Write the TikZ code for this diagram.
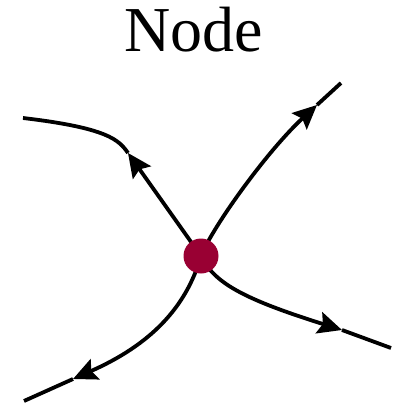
\documentclass[tikz,border=0pt]{standalone}
\usepackage{fontspec}
\setmainfont{Liberation Serif}
\usetikzlibrary{arrows.meta}
\definecolor{dotred}{HTML}{990033}
\tikzset{
  flow/.style={line width=3.8pt, black},
  tipflow/.style={flow, -{Stealth[length=24pt 0 0,width=22pt 0 0,inset=4pt 0]}},
  dotnode/.style={circle, fill=dotred, minimum size=35pt, inner sep=0pt},
  titlenode/.style={font=\fontsize{64}{70}\selectfont, anchor=base}
}
\begin{document}
\begin{tikzpicture}[x=1pt,y=-1pt]
\useasboundingbox (0,0) rectangle (394,405);
\node[titlenode] (title) at (194,51) {Node};
\coordinate (dc) at (201,256);
% ends and arrow tips
\coordinate (e1) at (23,118);   \coordinate (t1) at (128,153);
\coordinate (e2) at (341,83);   \coordinate (t2) at (317,105);
\coordinate (e3) at (391,348);  \coordinate (t3) at (342,330);
\coordinate (e4) at (24,401);   \coordinate (t4) at (73,379);
% upper left
\draw[tipflow] (dc) -- (t1);
\draw[flow] (t1) .. controls (119,140) and (108,128) .. (e1);
% upper right
\draw[tipflow] (dc) .. controls (213,226) and (268,150) .. (t2);
\draw[flow] (t2) -- (e2);
% lower right
\draw[tipflow] (dc) .. controls (214,282) and (240,298) .. (t3);
\draw[flow] (t3) -- (e3);
% lower left
\draw[tipflow] (dc) .. controls (186,308) and (150,345) .. (t4);
\draw[flow] (t4) -- (e4);
\node[dotnode] (dot) at (dc) {};
\end{tikzpicture}
\end{document}
